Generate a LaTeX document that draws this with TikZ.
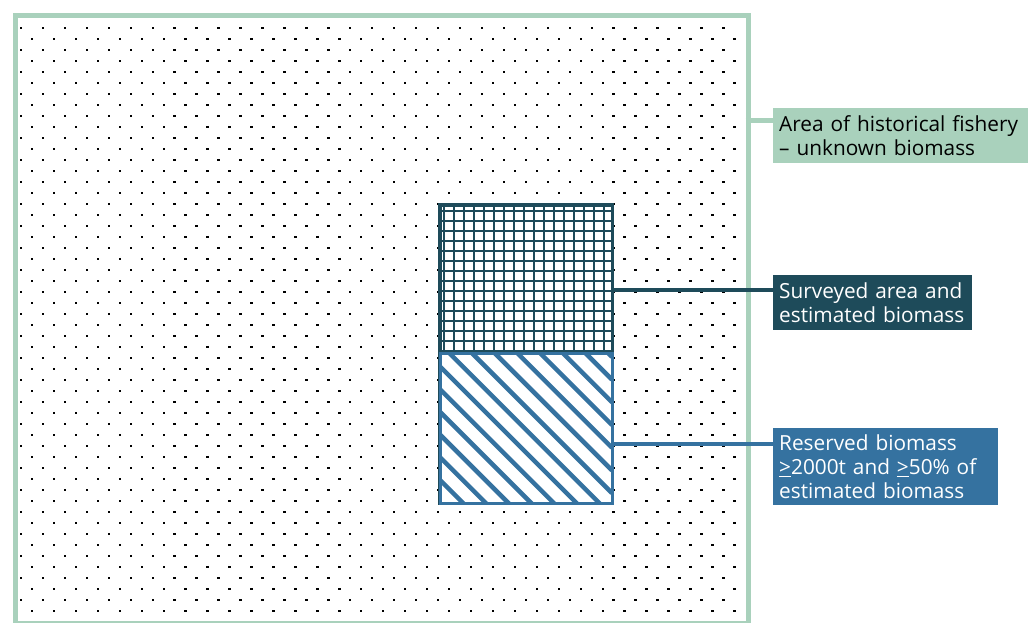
\documentclass[tikz,border=0pt]{standalone}
\usepackage{fontspec}
\setmainfont{Open Sans}
\usetikzlibrary{positioning}
\definecolor{seagreen}{HTML}{A9D1BC}
\definecolor{deepteal}{HTML}{1E4B5A}
\definecolor{steelblue}{HTML}{3572A0}

\begin{document}
\begin{tikzpicture}[x=1pt,y=-1pt,font=\fontsize{20.8}{24}\selectfont,
  area/.style={anchor=north west,inner sep=0pt},
  lbl/.style={anchor=north west,inner xsep=6pt,inner ysep=0pt,align=left},
  link/.style={line width=4pt},
  gridln/.style={deepteal,line width=1.4pt},
  hatchln/.style={steelblue,line width=4.5pt}]
\useasboundingbox (0,0) rectangle (1030,622);
% dotted ground of the fishery
\foreach \r in {0,...,54}{
  \pgfmathsetmacro\yy{16.7+11.01*\r}
  \pgfmathsetmacro\xo{mod(\r,2)==0 ? 32 : 21}
  \foreach \c in {0,...,32}
    \fill ({\xo+21.95*\c-1.2},{\yy-1.2}) rectangle +(2.4,2.4);
}
\node[area,draw=seagreen,line width=5pt,minimum width=733pt,minimum height=608pt] (fishery) at (12.5,13) {};
% surveyed and reserved parts
\node[area,fill=white,minimum width=172pt,minimum height=148pt] (survey) at (440,205) {};
\node[area,fill=white,minimum width=172pt,minimum height=150pt] (reserve) at (440,353) {};
\begin{scope}
  \clip (survey.north west) rectangle (survey.south east);
  \foreach \x in {444,454,...,604} \draw[gridln] (\x,205) -- (\x,353);
  \foreach \y in {211,221,...,351} \draw[gridln] (440,\y) -- (612,\y);
\end{scope}
\begin{scope}
  \clip (reserve.north west) rectangle (reserve.south east);
  \foreach \k in {0,...,13}{
    \pgfmathsetmacro\cc{-40+22.7*\k}
    \draw[hatchln] (440,{440-\cc}) -- (612,{612-\cc});
  }
\end{scope}
\draw[deepteal,line width=3.5pt] (survey.north west) rectangle (reserve.south east);
\draw[steelblue,line width=3pt] (reserve.north west) rectangle (reserve.south east);
% labels
\node[lbl,fill=seagreen,text=black,text width=243pt,minimum height=55pt] (fisherylbl) at (773,108)
 {Area of historical fishery\\– unknown biomass};
\node[lbl,fill=deepteal,text=white,text width=187pt,minimum height=55pt] (surveylbl) at (773,275)
 {Surveyed area and\\estimated biomass};
\node[lbl,fill=steelblue,text=white,text width=213pt,minimum height=77pt] (reservelbl) at (773,428)
 {Reserved biomass\\\underline{>}2000t and \underline{>}50\% of\\estimated biomass};
\coordinate (fisheryend) at (745.5,120.5);
\coordinate (surveyend) at (612,289.5);
\coordinate (reserveend) at (612,444);
\draw[link,seagreen,line width=5pt] (fisheryend) -- (fisheryend -| fisherylbl.west);
\draw[link,deepteal] (surveyend) -- (surveyend -| surveylbl.west);
\draw[link,steelblue] (reserveend) -- (reserveend -| reservelbl.west);
\end{tikzpicture}
\end{document}
